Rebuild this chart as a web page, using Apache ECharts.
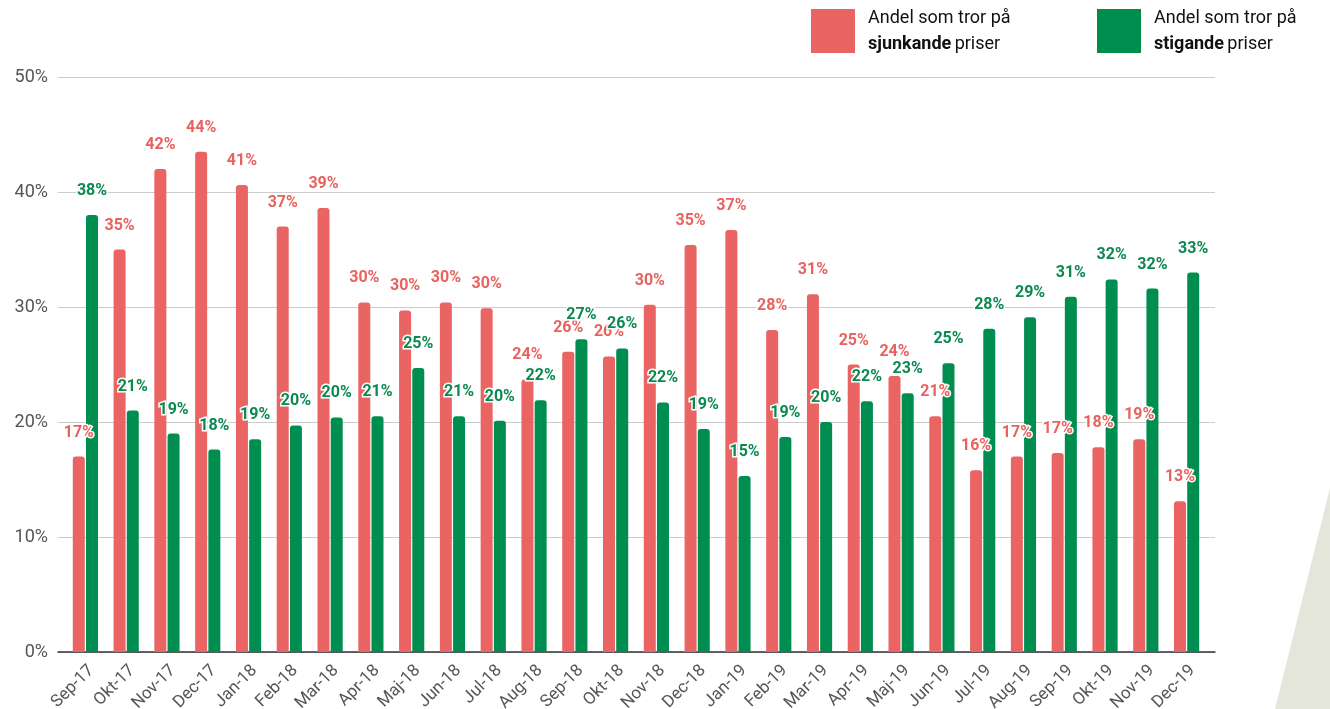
<!DOCTYPE html>
<html>
<head>
<meta charset="utf-8">
<script src="https://cdn.jsdelivr.net/npm/echarts@6/dist/echarts.min.js"></script>
<style>
  html, body { margin: 0; padding: 0; background: #fff; }
  #chart { width: 1330px; height: 709px; }
</style>
</head>
<body>
<div id="chart"></div>
<script>
// months on the x axis
const months = ['Sep-17', 'Okt-17', 'Nov-17', 'Dec-17', 'Jan-18', 'Feb-18', 'Mar-18', 'Apr-18', 'Maj-18', 'Jun-18',
  'Jul-18', 'Aug-18', 'Sep-18', 'Okt-18', 'Nov-18', 'Dec-18', 'Jan-19', 'Feb-19', 'Mar-19', 'Apr-19',
  'Maj-19', 'Jun-19', 'Jul-19', 'Aug-19', 'Sep-19', 'Okt-19', 'Nov-19', 'Dec-19']
// andel som tror på sjunkande priser (%)
const sjunkande = [17, 35, 42, 43.5, 40.6, 37, 38.6, 30.4, 29.7, 30.4,
  29.9, 23.7, 26.1, 25.7, 30.2, 35.4, 36.7, 28, 31.1, 25,
  24, 20.5, 15.8, 17, 17.3, 17.8, 18.5, 13.1]
// andel som tror på stigande priser (%)
const stigande = [38, 21, 19, 17.6, 18.5, 19.7, 20.4, 20.5, 24.7, 20.5,
  20.1, 21.9, 27.2, 26.4, 21.7, 19.4, 15.3, 18.7, 20, 21.8,
  22.5, 25.1, 28.1, 29.1, 30.9, 32.4, 31.6, 33]
const yTicks = [0, 10, 20, 30, 40, 50]

const RED = '#e96463'
const GREEN = '#008e50'

const chart = echarts.init(document.getElementById('chart'))

function barLabel(color) {
  return {
    show: true,
    position: 'top',
    distance: 16,
    formatter: (p) => Math.round(p.value) + '%',
    color,
    fontFamily: 'Roboto',
    fontWeight: 'bold',
    fontSize: 16,
    textBorderColor: '#fff',
    textBorderWidth: 3
  }
}

function legendText(word) {
  return {
    data: [word],
    top: 4,
    itemWidth: 44,
    itemHeight: 44,
    icon: 'rect',
    formatter: () => '{a|Andel som tror på}\n{b|' + word + '} {a|priser}',
    textStyle: {
      padding: [0, 0, 0, 8],
      rich: {
        a: { fontFamily: 'Roboto', fontSize: 18, color: '#111', lineHeight: 26 },
        b: { fontFamily: 'Roboto', fontSize: 18, fontWeight: 'bold', color: '#111', lineHeight: 26 }
      }
    }
  }
}

const option = {
  animation: false,
  legend: [
    Object.assign(legendText('sjunkande'), { left: 806 }),
    Object.assign(legendText('stigande'), { left: 1092 })
  ],
  grid: [
    { left: 58, right: 115, top: 77, bottom: 57, outerBoundsMode: 'none' },
    { left: 65, right: 123, top: 77, bottom: 57, outerBoundsMode: 'none' }
  ],
  xAxis: [
    {
      type: 'category',
      gridIndex: 0,
      data: months,
      axisLine: { show: true, lineStyle: { color: '#333', width: 1.5 } },
      axisTick: { show: false },
      axisLabel: { show: false }
    },
    {
      type: 'category',
      gridIndex: 1,
      data: months,
      axisLine: { show: false },
      axisTick: { show: false },
      axisLabel: {
        rotate: 45,
        interval: 0,
        margin: 10,
        verticalAlign: 'top',
        color: '#555',
        fontFamily: 'Roboto',
        fontSize: 17
      }
    }
  ],
  yAxis: [
    {
      type: 'value',
      gridIndex: 0,
      min: yTicks[0],
      max: yTicks[yTicks.length - 1],
      interval: 10,
      axisLine: { show: false },
      axisTick: { show: false },
      axisLabel: {
        formatter: '{value}%',
        color: '#555',
        fontFamily: 'Roboto',
        fontSize: 18,
        margin: 10
      },
      splitLine: { lineStyle: { color: '#cccccc' } }
    },
    {
      type: 'value',
      gridIndex: 1,
      min: yTicks[0],
      max: yTicks[yTicks.length - 1],
      interval: 10,
      show: false,
      splitLine: { show: false }
    }
  ],
  series: [
    {
      name: 'sjunkande',
      type: 'bar',
      xAxisIndex: 1,
      yAxisIndex: 1,
      data: sjunkande,
      barWidth: 12,
      barGap: '10%',
      itemStyle: { color: RED, borderRadius: [3, 3, 0, 0] },
      label: barLabel('#e8625f')
    },
    {
      name: 'stigande',
      type: 'bar',
      xAxisIndex: 1,
      yAxisIndex: 1,
      data: stigande,
      barWidth: 12,
      itemStyle: { color: GREEN, borderRadius: [3, 3, 0, 0] },
      label: barLabel('#0a8a50')
    }
  ],
  graphic: [
    {
      type: 'polygon',
      z: -10,
      shape: { points: [[1330, 488], [1330, 709], [1275, 709]] },
      style: { fill: '#e3e6d9' }
    }
  ]
}

chart.setOption(option)
</script>
</body>
</html>
